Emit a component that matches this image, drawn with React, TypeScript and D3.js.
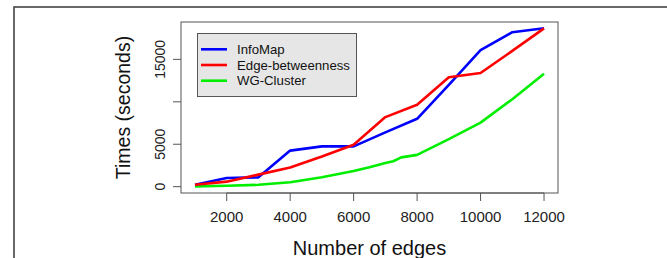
import React, { useEffect, useRef } from 'react';
import * as d3 from 'd3';

const edges = [1000, 2000, 3000, 4000, 5000, 6000, 7000, 8000, 9000, 10000, 11000, 12000];
const infoMap = [230, 1020, 1100, 4250, 4750, 4750, 6400, 8000, 12000, 16100, 18200, 18660];
const edgeBetweenness = [230, 590, 1420, 2250, 3550, 4950, 8200, 9650, 12900, 13400, 16000, 18660];
const wgEdges = [1000, 2000, 3000, 4000, 5000, 6000, 6500, 7000, 7250, 7500, 8000, 9000, 10000, 11000, 12000];
const wgCluster = [30, 100, 220, 520, 1100, 1850, 2300, 2800, 3000, 3450, 3750, 5600, 7550, 10300, 13300];

const xTicks = [2000, 4000, 6000, 8000, 10000, 12000];
const yTicks = [0, 5000, 10000, 15000];
const yLabels = ['0', '5000', '', '15000'];

const seriesNames = ['InfoMap', 'Edge-betweenness', 'WG-Cluster'];
const seriesColors = ['#0000ff', '#ff0000', '#00ee00'];

const W = 667;
const H = 258;
const FONT = 'Liberation Sans, Arial, sans-serif';

const Chart: React.FC = () => {
  const svgRef = useRef<SVGSVGElement>(null);

  useEffect(() => {
    if (!svgRef.current) return;
    const svg = d3.select(svgRef.current);
    svg.selectAll('*').remove();

    const box = { left: 181, top: 22, right: 558, bottom: 193 };

    // R-style 4% padding on the data range
    const xr = [1000, 12000];
    const yMax = d3.max([...infoMap, ...edgeBetweenness, ...wgCluster]) as number;
    const yr = [0, yMax];
    const xPad = (xr[1] - xr[0]) * 0.04;
    const yPad = (yr[1] - yr[0]) * 0.04;

    const x = d3.scaleLinear().domain([xr[0] - xPad, xr[1] + xPad]).range([box.left, box.right]);
    const y = d3.scaleLinear().domain([yr[0] - yPad, yr[1] + yPad]).range([box.bottom, box.top]);

    // outer frame (cropped)
    svg.append('rect')
      .attr('x', 14).attr('y', 7)
      .attr('width', W + 20).attr('height', H + 20)
      .attr('fill', 'none')
      .attr('stroke', '#444')
      .attr('stroke-width', 1.6);

    // plot box
    svg.append('rect')
      .attr('x', box.left).attr('y', box.top)
      .attr('width', box.right - box.left).attr('height', box.bottom - box.top)
      .attr('fill', 'none')
      .attr('stroke', '#555')
      .attr('stroke-width', 1);

    // x axis
    const xa = svg.append('g');
    xa.append('line')
      .attr('x1', x(xTicks[0])).attr('x2', x(xTicks[xTicks.length - 1]))
      .attr('y1', box.bottom).attr('y2', box.bottom)
      .attr('stroke', '#555');
    xTicks.forEach(t => {
      xa.append('line')
        .attr('x1', x(t)).attr('x2', x(t))
        .attr('y1', box.bottom).attr('y2', box.bottom + 8)
        .attr('stroke', '#555');
      xa.append('text')
        .attr('x', x(t)).attr('y', 222)
        .attr('text-anchor', 'middle')
        .style('font-family', FONT)
        .style('font-size', '15px')
        .attr('fill', '#222')
        .text(String(t));
    });

    // y axis
    const ya = svg.append('g');
    yTicks.forEach((t, i) => {
      ya.append('line')
        .attr('x1', box.left - 8).attr('x2', box.left)
        .attr('y1', y(t)).attr('y2', y(t))
        .attr('stroke', '#555');
      if (yLabels[i]) {
        ya.append('text')
          .attr('transform', `translate(165,${y(t)}) rotate(-90)`)
          .attr('text-anchor', 'middle')
          .style('font-family', FONT)
          .style('font-size', '14px')
          .attr('fill', '#222')
          .text(yLabels[i]);
      }
    });

    // axis titles
    svg.append('text')
      .attr('x', (box.left + box.right) / 2).attr('y', 255)
      .attr('text-anchor', 'middle')
      .style('font-family', FONT)
      .style('font-size', '20px')
      .attr('fill', '#111')
      .text('Number of edges');

    svg.append('text')
      .attr('transform', `translate(130,${(box.top + box.bottom) / 2}) rotate(-90)`)
      .attr('text-anchor', 'middle')
      .style('font-family', FONT)
      .style('font-size', '19.5px')
      .attr('fill', '#111')
      .text('Times (seconds)');

    // lines
    const line = d3.line<[number, number]>()
      .x(d => x(d[0]))
      .y(d => y(d[1]));

    const series: [number, number][][] = [
      edges.map((e, i) => [e, infoMap[i]]),
      edges.map((e, i) => [e, edgeBetweenness[i]]),
      wgEdges.map((e, i) => [e, wgCluster[i]]),
    ];

    [2, 0, 1].forEach(k => {
      svg.append('path')
        .datum(series[k])
        .attr('fill', 'none')
        .attr('stroke', seriesColors[k])
        .attr('stroke-width', 2.6)
        .attr('stroke-linejoin', 'round')
        .attr('d', line);
    });

    // legend
    const lg = svg.append('g');
    lg.append('rect')
      .attr('x', 197.5).attr('y', 33.5)
      .attr('width', 159).attr('height', 63)
      .attr('fill', '#e6e6e6')
      .attr('stroke', '#555');
    seriesNames.forEach((name, i) => {
      const cy = 49.3 + i * 15.7;
      lg.append('line')
        .attr('x1', 201).attr('x2', 227)
        .attr('y1', cy).attr('y2', cy)
        .attr('stroke', seriesColors[i])
        .attr('stroke-width', 2.6);
      lg.append('text')
        .attr('x', 237).attr('y', cy)
        .attr('dominant-baseline', 'central')
        .style('font-family', FONT)
        .style('font-size', '13.2px')
        .attr('fill', '#111')
        .text(name);
    });
  }, []);

  return (
    <svg
      ref={svgRef}
      width={W}
      height={H}
      viewBox={`0 0 ${W} ${H}`}
      style={{ position: 'absolute', left: 0, top: 0, background: '#fff' }}
    />
  );
};

export default function App() {
  return <Chart />;
}
